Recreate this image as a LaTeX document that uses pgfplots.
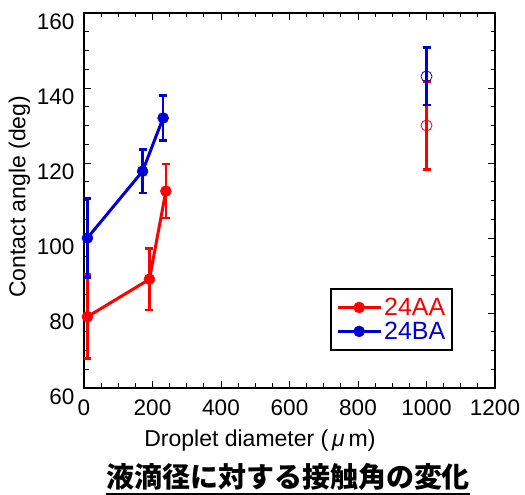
\documentclass[border=0pt]{standalone}
\usepackage{pgfplots}
\pgfplotsset{compat=1.18}
\usepackage{fontspec}
\setmainfont{Liberation Sans}
\newfontfamily\cjk{Noto Sans CJK JP}
\definecolor{myred}{RGB}{255,0,0}
\definecolor{myblue}{RGB}{0,0,210}
\begin{document}
\begin{tikzpicture}
\useasboundingbox (0,0) rectangle (525pt,495pt);
\begin{axis}[
  at={(84pt,107pt)}, anchor=south west,
  scale only axis,
  width=411pt, height=375pt,
  xmin=0, xmax=1200, ymin=60, ymax=160,
  xtick distance=200, ytick distance=20,
  minor x tick num=3, minor y tick num=3,
  tick align=inside,
  major tick length=7pt, minor tick length=4.5pt,
  every tick/.style={black, line width=0.8pt},
  axis line style={line width=1.2pt},
  /pgf/number format/assume math mode=true,
  /pgf/number format/1000 sep={},
  tick label style={font=\fontsize{22.5}{22.5}\selectfont},
  yticklabel style={xshift=-6pt, yshift=-9pt},
  xticklabel style={yshift=-8pt},
  xlabel={Droplet diameter (\,\textit{μ}\,m)},
  ylabel={Contact angle (deg)},
  label style={font=\fontsize{23}{23}\selectfont},
  xlabel style={at={(axis description cs:0.428,-0.139)}, anchor=center},
  ylabel style={at={(axis description cs:-0.157,0.51)}, anchor=center},
  legend style={at={(rel axis cs:0.599,0.099)}, anchor=south west,
    draw=black, line width=2pt, inner xsep=5pt, inner ysep=7pt,
    font=\fontsize{25}{27}\selectfont, row sep=1pt,
    /tikz/every even column/.append style={column sep=14pt}},
  legend cell align=left,
  legend image code/.code={
    \draw[mark repeat=2, mark phase=2, #1]
      plot coordinates {(0pt,0pt) (21.5pt,0pt) (43pt,0pt)};
  },
]
\addplot[myred, line width=3pt, mark=*, mark size=5.5pt,
  mark options={solid, line width=0.5pt},
  error bars/.cd, y dir=both, y explicit,
  error bar style={line width=2.5pt},
  error mark options={rotate=90, mark size=4pt, line width=2.5pt, myred}]
coordinates {
  (10,79) +- (0,11.2)
  (191,89) +- (0,8.2)
  (239,112.5) +- (0,7.2)
};
\addlegendentry{\textcolor{myred}{24AA}}
\addplot[myblue, line width=3pt, mark=*, mark size=5.5pt,
  mark options={solid, line width=0.5pt},
  error bars/.cd, y dir=both, y explicit,
  error bar style={line width=2.5pt},
  error mark options={rotate=90, mark size=4pt, line width=2.5pt, myblue}]
coordinates {
  (10,100) +- (0,10.5)
  (171,117.8) +- (0,5.8)
  (231,132) +- (0,6)
};
\addlegendentry{\textcolor{myblue}{24BA}}
\addplot[myred, only marks, mark=o, mark size=5.5pt, forget plot,
  mark options={line width=0.8pt},
  error bars/.cd, y dir=both, y explicit,
  error bar style={line width=2.5pt},
  error mark options={rotate=90, mark size=4pt, line width=2.5pt, myred}]
coordinates {
  (1000,130) +- (0,11.7)
};
\addplot[myblue, only marks, mark=o, mark size=5.5pt, forget plot,
  mark options={line width=0.8pt},
  error bars/.cd, y dir=both, y explicit,
  error bar style={line width=2.5pt},
  error mark options={rotate=90, mark size=4pt, line width=2.5pt, myblue}]
coordinates {
  (1000,143.1) +- (0,7.7)
};
\end{axis}
\node[font=\cjk\bfseries\fontsize{28}{28}\selectfont, inner sep=0pt, name=title] at (288pt,18pt) {液滴径に対する接触角の変化};
\draw[line width=2pt] ([yshift=-3pt]title.south west) -- ([yshift=-3pt]title.south east);
\end{tikzpicture}
\end{document}
